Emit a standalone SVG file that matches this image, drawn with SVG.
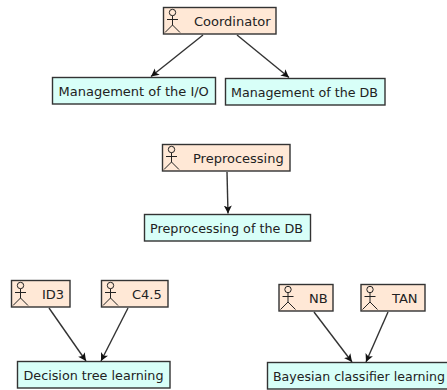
<svg xmlns="http://www.w3.org/2000/svg" width="447" height="390" viewBox="0 0 447 390">
<defs>
<marker id="arrow" markerUnits="userSpaceOnUse" markerWidth="10" markerHeight="10" refX="8" refY="4" orient="auto"><path d="M0,0 L8,4 L0,8 L2,4 Z" fill="#111"/></marker>
<g id="actor" fill="none" stroke="#222" stroke-width="1"><circle cx="8" cy="5" r="3.200"/><path d="M8,8.200V17.500M2.500,12H13.500M8,17.500L0.500,25M8,17.500L15.500,25"/></g>
</defs>
<style>
text{font-family:"DejaVu Sans",Verdana,sans-serif;font-size:13px;fill:#222}
.actor{fill:#ffe8d6;stroke:#333;stroke-width:1.4}
.task{fill:#d8fff8;stroke:#333;stroke-width:1.4}
.edge{fill:none;stroke:#333;stroke-width:1.4;marker-end:url(#arrow)}
</style>
<g id="connectors">
<path class="edge" d="M203,35L151,76.500"/>
<path class="edge" d="M237,35L289,77.500"/>
<path class="edge" d="M227,172L228,213.500"/>
<path class="edge" d="M49,308L86,361"/>
<path class="edge" d="M128,308L101,361"/>
<path class="edge" d="M314,312L352,362"/>
<path class="edge" d="M388,312L366,362"/>
</g>
<g id="coordinator"><rect class="actor" x="163.500" y="7.500" width="112.500" height="26.500"/><use href="#actor" x="164.500" y="7.500"/><text x="194" y="25.500">Coordinator</text></g>
<g id="management-io"><rect class="task" x="52.500" y="77.500" width="163" height="26.500"/><text x="58.500" y="95.500">Management of the I/O</text></g>
<g id="management-db"><rect class="task" x="225.500" y="78.500" width="159.500" height="26.500"/><text x="231" y="96.500" textLength="147" lengthAdjust="spacingAndGlyphs">Management of the DB</text></g>
<g id="preprocessing"><rect class="actor" x="162.500" y="144.500" width="127.500" height="26.500"/><use href="#actor" x="163.500" y="144.500"/><text x="193" y="163">Preprocessing</text></g>
<g id="preprocessing-db"><rect class="task" x="144.500" y="214.500" width="166" height="26.500"/><text x="150" y="232.500" textLength="153" lengthAdjust="spacingAndGlyphs">Preprocessing of the DB</text></g>
<g id="id3"><rect class="actor" x="11.500" y="280.500" width="58.500" height="26.500"/><use href="#actor" x="12.500" y="280.500"/><text x="42" y="298.500">ID3</text></g>
<g id="c45"><rect class="actor" x="101.500" y="280.500" width="66.500" height="26.500"/><use href="#actor" x="102.500" y="280.500"/><text x="132" y="298.500">C4.5</text></g>
<g id="decision-tree"><rect class="task" x="17.500" y="361.500" width="152.500" height="26.500"/><text x="23.500" y="379.500" textLength="140" lengthAdjust="spacingAndGlyphs">Decision tree learning</text></g>
<g id="nb"><rect class="actor" x="279" y="284.500" width="54" height="26.500"/><use href="#actor" x="280" y="284.500"/><text x="309" y="303">NB</text></g>
<g id="tan"><rect class="actor" x="361" y="284.500" width="64" height="26.500"/><use href="#actor" x="362" y="284.500"/><text x="392" y="303">TAN</text></g>
<g id="bayesian"><rect class="task" x="267.500" y="362.500" width="185" height="26.500"/><text x="273" y="381" textLength="172" lengthAdjust="spacingAndGlyphs">Bayesian classifier learning</text></g>
</svg>
